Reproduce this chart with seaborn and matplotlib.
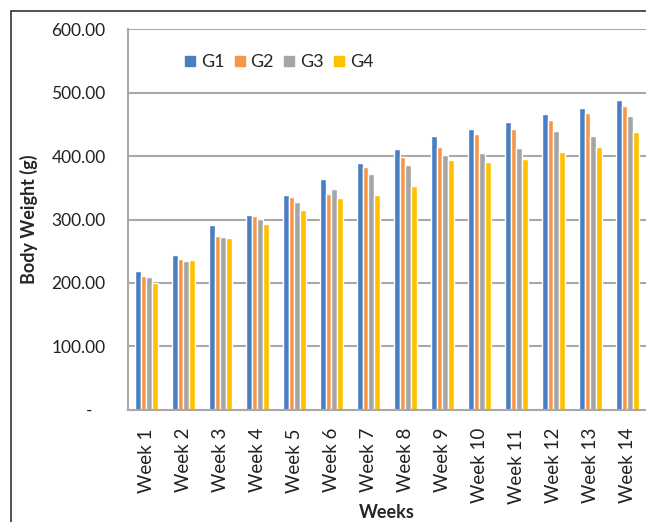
import matplotlib
matplotlib.use("Agg")
import matplotlib.pyplot as plt
from matplotlib.lines import Line2D
import seaborn as sns
import pandas as pd

weeks = [f"Week {i}" for i in range(1, 15)]
groups = ["G1", "G2", "G3", "G4"]
g1 = [219, 244, 292, 307, 338, 364, 389, 411, 431, 443, 453, 466, 475, 488]
g2 = [211, 238, 274, 305, 336, 340, 382, 399, 414, 435, 442, 457, 467, 479]
g3 = [210, 234, 272, 301, 327, 348, 371, 386, 401, 404, 413, 439, 432, 463]
g4 = [200, 236, 271, 293, 315, 334, 339, 353, 393, 391, 396, 407, 414, 438]
colors = ["#4A7EC2", "#F79646", "#A5A5A5", "#FFC000"]
yticks = [0, 100, 200, 300, 400, 500, 600]
ytick_labels = ["-   ", "100.00", "200.00", "300.00", "400.00", "500.00", "600.00"]

rows = []
for g, vals in zip(groups, [g1, g2, g3, g4]):
    for w, v in zip(weeks, vals):
        rows.append({"Week": w, "Group": g, "Weight": v})
df = pd.DataFrame(rows)

sns.set_theme(style="white")
plt.rcParams["font.family"] = ["Lato", "DejaVu Sans"]

fig = plt.figure(figsize=(6.46, 5.22), dpi=100)
ax = fig.add_axes([0.198, 0.2146, 0.802, 0.7298])

sns.barplot(data=df, x="Week", y="Weight", hue="Group", order=weeks,
            hue_order=groups, palette=colors, width=0.63, saturation=1,
            errorbar=None, ax=ax, legend=False)

ax.set_ylim(0, 600)
ax.set_xlim(-0.5, 13.5)
ax.set_yticks(yticks)
ax.set_yticklabels(ytick_labels, fontsize=12.5, color="#222222")
ax.tick_params(axis="y", length=0, pad=16)
ax.tick_params(axis="x", length=0, pad=13)
ax.set_xticks(range(len(weeks)))
ax.set_xticklabels(weeks, rotation=90, fontsize=13.5, color="#222222")
ax.yaxis.grid(True, color="#A8A8A8", linewidth=1.5)
ax.set_axisbelow(True)
for s in ["top", "right"]:
    ax.spines[s].set_visible(False)
ax.spines["left"].set_color("#A8A8A8")
ax.spines["left"].set_linewidth(1.5)
ax.spines["bottom"].set_color("#A8A8A8")
ax.spines["bottom"].set_linewidth(1.5)

ax.set_ylabel("Body Weight (g)", fontsize=13, fontweight="bold")
ax.yaxis.set_label_coords(-0.191, 0.5)
ax.yaxis.label.set_va("center")
ax.set_xlabel("Weeks", fontsize=13, fontweight="bold")
ax.xaxis.set_label_coords(0.5, -0.268)
ax.xaxis.label.set_va("center")

handles = [Line2D([0], [0], marker="s", linestyle="none", markersize=7,
                  markerfacecolor=c, markeredgecolor=c) for c in colors]
ax.legend(handles, groups, ncol=4, frameon=False, loc="center left",
          bbox_to_anchor=(0.092, 0.913), fontsize=13, handletextpad=0.3,
          columnspacing=0.55, handlelength=0.6, borderpad=0)

# outer chart border
fig.add_artist(Line2D([0.017, 0.017], [0, 0.979], color="#333333", lw=1.2,
                      transform=fig.transFigure))
fig.add_artist(Line2D([0.017, 1.0], [0.979, 0.979], color="#333333", lw=1.2,
                      transform=fig.transFigure))

fig.savefig("out.png", dpi=100)
